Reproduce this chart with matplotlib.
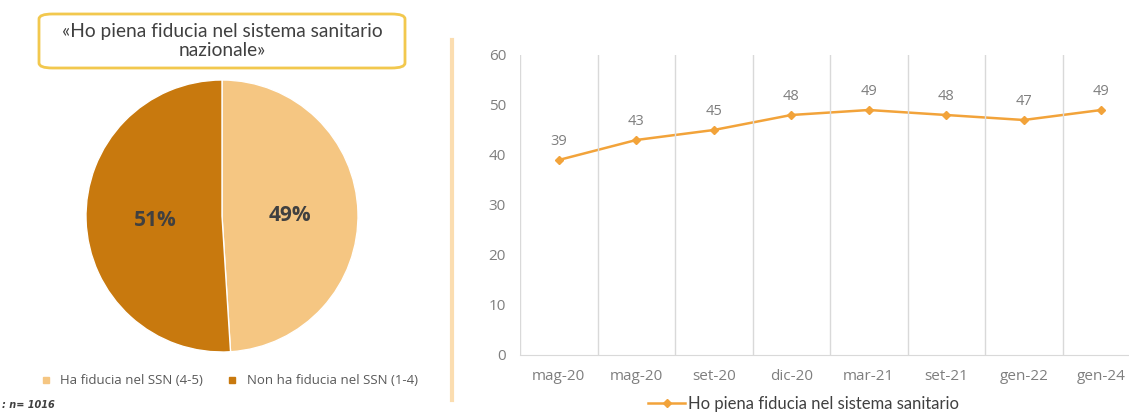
import matplotlib.pyplot as plt
from matplotlib.patches import FancyBboxPatch
from matplotlib.lines import Line2D

# pie: trust in the national health service
pie_labels = ['Ha fiducia nel SSN (4-5)', 'Non ha fiducia nel SSN (1-4)']
pie_values = [49, 51]

# trend over time
months = ['mag-20', 'mag-20', 'set-20', 'dic-20', 'mar-21', 'set-21', 'gen-22', 'gen-24']
trust = [39, 43, 45, 48, 49, 48, 47, 49]

light = '#F5C682'
dark = '#C8790E'
line_col = '#F2A33A'

W, H = 1129, 412
fig = plt.figure(figsize=(W / 100, H / 100), dpi=100)

def px(x0, y0, w, h):
    # pixel box (top-left origin) -> figure fraction
    return [x0 / W, 1 - (y0 + h) / H, w / W, h / H]

# ---- pie ----
axp = fig.add_axes(px(86, 80, 272, 272))
wedges, _ = axp.pie(pie_values, colors=[light, dark], startangle=90, counterclock=False,
                    wedgeprops=dict(edgecolor='white', linewidth=1))
axp.set_xlim(-1, 1)
axp.set_ylim(-1, 1)
axp.set_aspect('equal')
axp.axis('off')
axp.text(0.5, 0.0, f'{pie_values[0]}%', ha='center', va='center', fontsize=15,
         fontweight='bold', color='#404040', family='Open Sans')
axp.text(-0.49, -0.03, f'{pie_values[1]}%', ha='center', va='center', fontsize=15,
         fontweight='bold', color='#404040', family='Open Sans')

# title box
box = FancyBboxPatch((39 / W, 1 - 68 / H), 366 / W, 54 / H,
                     boxstyle='round,pad=0,rounding_size=0.012',
                     transform=fig.transFigure, facecolor='white',
                     edgecolor='#F2C84E', linewidth=2)
fig.patches.append(box)
fig.text(222 / W, 1 - 41 / H, '«Ho piena fiducia nel sistema sanitario\nnazionale»',
         ha='center', va='center', fontsize=13.8, color='#404040', family='Lato',
         linespacing=1.1)

# pie legend
handles = [Line2D([], [], marker='s', linestyle='', markersize=5, color=c) for c in (light, dark)]
fig.legend(handles, pie_labels, loc='center', bbox_to_anchor=(225 / W, 1 - 381 / H),
           ncol=2, frameon=False, handletextpad=0.1, columnspacing=1.2,
           labelcolor='#595959', prop={'family': 'Open Sans', 'size': 9.5})
fig.text(2 / W, 1 - 405 / H, ': n= 1016', ha='left', va='center', fontsize=7,
         style='italic', fontweight='bold', color='#404040')

# separator
fig.add_artist(Line2D([452 / W, 452 / W], [1 - 40 / H, 1 - 400 / H],
                      transform=fig.transFigure, color='#FBDDB0', linewidth=3))

# ---- line chart ----
ax = fig.add_axes(px(520, 55, 620, 300))
x = list(range(len(months)))
ax.plot(x, trust, color=line_col, linewidth=1.8, marker='D', markersize=4.5,
        label='Ho piena fiducia nel sistema sanitario')
for xi, v in zip(x, trust):
    ax.annotate(str(v), (xi, v), xytext=(0, 8), textcoords='offset points',
                ha='center', va='bottom', fontsize=10.5, color='#7F7F7F', family='Open Sans')
ax.set_xlim(-0.5, len(months) - 0.5)
ax.set_ylim(0, 60)
ax.set_yticks(range(0, 61, 10))
ax.set_xticks(x)
ax.set_xticklabels(months)
for b in range(len(months) + 1):
    ax.axvline(b - 0.5, color='#D9D9D9', linewidth=1)
for s in ['top', 'right', 'left']:
    ax.spines[s].set_visible(False)
ax.spines['bottom'].set_color('#D9D9D9')
ax.tick_params(length=0, colors='#7F7F7F', labelsize=11, pad=10)
for t in ax.get_xticklabels() + ax.get_yticklabels():
    t.set_family('Open Sans')
ax.legend(loc='center', bbox_to_anchor=(804 / W, 1 - 404 / H), bbox_transform=fig.transFigure,
          frameon=False, prop={'family': 'Lato', 'size': 12}, labelcolor='#404040',
          handlelength=2.2, handletextpad=0.2, markerscale=0.8)

fig.savefig('out.png', dpi=100)
